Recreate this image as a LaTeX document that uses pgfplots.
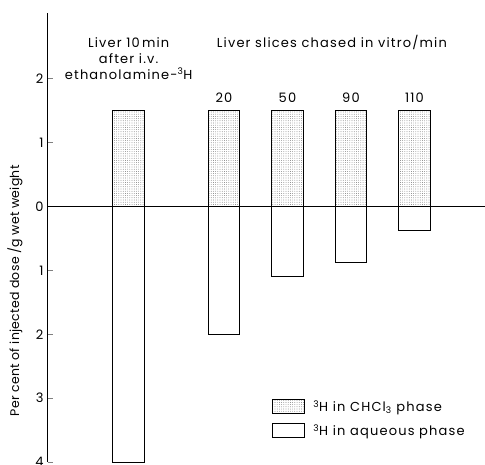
\documentclass[border=0pt]{standalone}
\usepackage{fontspec}
\setmainfont{Poppins}[LetterSpace=9]
\newfontfamily\labelfont{Poppins}[LetterSpace=2]
\usepackage{pgfplots}
\pgfplotsset{compat=1.18}
\usetikzlibrary{patterns.meta}
\pgfplotsset{boxlegend/.style={legend image code/.code={\draw[##1] (0pt,-7pt) rectangle (32pt,7pt); \path (38pt,0pt);}}}

\begin{document}
\fontsize{13}{16}\selectfont
\begin{tikzpicture}
\begin{axis}[
	scale only axis,
	width=437pt, height=449pt,
	xmin=-1.27, xmax=5.61,
	ymin=-4, ymax=3.03,
	axis y line=left,
	axis x line=none,
	axis line style={-, line width=1pt},
	xtick=\empty,
	ytick={-4,-3,-2,-1,0,1,2},
	yticklabels={4,3,2,1,0,1,2},
	tick align=inside,
	major tick length=5pt,
	tick style={line width=0.9pt},
	/pgf/number format/assume math mode=true,
	ybar,
	bar width=0.5,
	clip=false,
	legend style={at={(axis cs:2.26,-3.0)}, anchor=north west, draw=none, fill=none,
		inner sep=0pt, row sep=7pt, font=\fontsize{13}{14}\selectfont},
	legend cell align=left,
]
% 3H in CHCl3 phase
\addplot[draw=black, line width=0.9pt, bar shift=0pt,
	pattern={Dots[distance=2.2pt, radius=0.35pt]}, pattern color=black!75, boxlegend]
	coordinates {(0,1.5) (1.5,1.5) (2.5,1.5) (3.5,1.5) (4.5,1.5)};
% 3H in aqueous phase
\addplot[draw=black, fill=white, line width=0.9pt, bar shift=0pt, boxlegend]
	coordinates {(0,-4.0) (1.5,-2.0) (2.5,-1.09) (3.5,-0.88) (4.5,-0.37)};
\draw[line width=0.8pt] (axis cs:-1.27,0) -- (axis cs:5.61,0);
\node[align=center] at (axis cs:0,2.32) {Liver 10\,min\\after i.v.\\ethanolamine-\textsuperscript{3}H};
\node at (axis cs:3.2,2.57) {Liver slices chased in vitro/min};
\node at (axis cs:1.5,1.71) {20};
\node at (axis cs:2.5,1.71) {50};
\node at (axis cs:3.5,1.71) {90};
\node at (axis cs:4.5,1.71) {110};
\node[rotate=90, font=\labelfont\fontsize{12.5}{14}\selectfont] at (axis cs:-1.79,-1.32) {Per cent of injected dose /g wet weight};
\legend{\textsuperscript{3}H in CHCl\textsubscript{3} phase, \textsuperscript{3}H in aqueous phase}
\end{axis}
\pgfresetboundingbox
\path (-48pt,-2pt) rectangle (437pt,462pt);
\end{tikzpicture}
\end{document}
